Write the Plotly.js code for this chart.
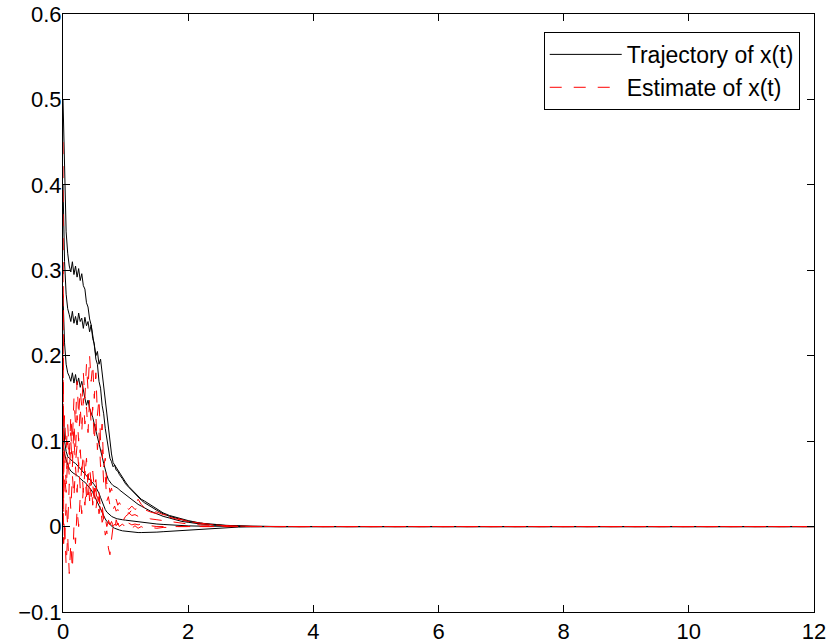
<!DOCTYPE html>
<html>
<head>
<meta charset="utf-8">
<script src="https://cdn.plot.ly/plotly-3.0.1.min.js"></script>
<style>html,body{margin:0;padding:0;background:#fff;}#chart{width:828px;height:643px;}</style>
</head>
<body>
<div id="chart"></div>
<script>
const time = [0,0.01,0.025,0.05,0.075,0.1,0.125,0.15,0.175,0.2,0.225,0.25,0.275,0.3,0.325,0.35,0.375,0.4,0.425,0.45,0.475,0.5,0.525,0.55,0.575,0.6,0.625,0.65,0.675,0.7,0.725,0.75,0.775,0.8,0.825,0.85,0.875,0.9,0.95,1.0,1.05,1.1,1.15,1.2,1.25,1.3,1.4,1.5,1.6,1.7,1.8,1.9,2.0,2.2,2.4,2.6,2.8,3.0,3.5,4.0,12];

const traj1 = [0.50,0.46,0.40,0.345,0.32,0.305,0.298,0.31,0.295,0.305,0.292,0.302,0.288,0.296,0.282,
 0.278,0.262,0.257,0.243,0.236,0.22,0.214,0.196,0.19,0.17,0.162,0.142,0.132,0.115,0.104,0.09,0.08,0.076,0.07,0.072,0.066,0.065,0.061,
 0.056,0.05,0.046,0.042,0.038,0.034,0.031,0.028,0.023,0.019,0.015,0.012,0.01,0.008,0.006,0.004,0.002,0.001,0.0005,0.0002,0,0,0];
const traj2 = [0.40,0.36,0.31,0.272,0.255,0.248,0.24,0.252,0.238,0.246,0.236,0.25,0.24,0.244,0.232,
 0.245,0.235,0.24,0.228,0.236,0.222,0.21,0.2,0.205,0.19,0.196,0.18,0.165,0.15,0.132,0.115,0.098,0.085,0.075,0.072,0.07,0.066,0.064,
 0.058,0.052,0.047,0.043,0.039,0.036,0.032,0.03,0.025,0.02,0.016,0.013,0.011,0.009,0.007,0.004,0.0025,0.0015,0.0008,0.0003,0,0,0];
const traj3 = [0.27,0.245,0.215,0.19,0.18,0.176,0.17,0.18,0.168,0.178,0.166,0.174,0.163,0.17,0.158,
 0.15,0.142,0.148,0.138,0.134,0.128,0.12,0.113,0.105,0.098,0.09,0.082,0.074,0.066,0.06,0.055,0.052,0.05,0.048,0.047,0.046,0.045,0.043,
 0.04,0.037,0.034,0.031,0.028,0.026,0.024,0.022,0.018,0.015,0.012,0.01,0.008,0.006,0.005,0.003,0.002,0.001,0.0005,0.0002,0,0,0];
const traj4 = [0.14,0.12,0.1,0.088,0.082,0.08,0.078,0.077,0.075,0.074,0.072,0.07,0.068,0.066,0.064,
 0.062,0.06,0.058,0.056,0.054,0.051,0.049,0.046,0.043,0.039,0.034,0.029,0.024,0.02,0.017,0.015,0.013,0.012,0.011,0.01,0.0095,0.009,0.0085,
 0.008,0.0075,0.007,0.0065,0.006,0.0055,0.005,0.0045,0.0035,0.003,0.0025,0.002,0.0015,0.001,0.0008,0.0005,0.0003,0.0002,0.0001,0,0,0,0];
const traj5 = [0.10,0.092,0.085,0.078,0.072,0.068,0.065,0.063,0.062,0.061,0.06,0.058,0.056,0.054,0.053,
 0.052,0.05,0.048,0.046,0.043,0.04,0.036,0.032,0.028,0.024,0.02,0.016,0.012,0.009,0.006,0.004,0.002,0.0005,-0.001,-0.002,-0.003,-0.0035,-0.004,
 -0.005,-0.0055,-0.006,-0.0065,-0.0068,-0.007,-0.007,-0.007,-0.0068,-0.0065,-0.006,-0.0055,-0.005,-0.0045,-0.004,-0.003,-0.002,-0.0012,-0.0006,-0.0003,0,0,0];

const est1 = [0.45,0.06,0.09,0.05,0.1,0.08,0.13,0.1,0.15,0.12,0.17,0.13,0.16,0.14,0.18,
 0.15,0.19,0.16,0.2,0.17,0.19,0.15,0.18,0.13,0.15,0.1,0.12,0.07,0.08,0.05,0.055,0.04,0.045,0.035,0.03,0.032,0.025,0.028,
 0.022,0.025,0.02,0.024,0.02,0.022,0.018,0.02,0.017,0.015,0.013,0.011,0.009,0.008,0.006,0.004,0.002,0.001,0.0005,0.0002,0,0,0];
const est2 = [0.3,0.03,0.06,0.04,0.08,0.06,0.1,0.07,0.12,0.09,0.13,0.1,0.14,0.11,0.15,
 0.12,0.14,0.11,0.15,0.12,0.14,0.1,0.13,0.09,0.11,0.07,0.09,0.05,0.06,0.03,0.035,0.025,0.028,0.02,0.024,0.018,0.02,0.016,
 0.018,0.015,0.016,0.013,0.014,0.012,0.012,0.011,0.009,0.008,0.007,0.006,0.005,0.004,0.003,0.002,0.001,0.0005,0.0002,0,0,0,0];
const est3 = [0.2,0.02,-0.02,0.03,0.0,0.05,0.02,0.06,0.035,0.07,0.04,0.075,0.045,0.07,0.04,
 0.065,0.035,0.06,0.03,0.055,0.025,0.045,0.02,0.035,0.015,0.025,0.005,0.01,-0.01,-0.005,-0.025,-0.033,-0.015,0.0,-0.005,0.008,0.002,0.01,
 0.006,0.012,0.015,0.02,0.024,0.032,0.026,0.022,0.018,0.017,0.014,0.013,0.01,0.008,0.006,0.004,0.002,0.001,0.0005,0.0002,0,0,0];
const est4 = [0.1,-0.02,0.0,-0.045,-0.01,-0.055,-0.02,-0.05,0.0,-0.02,0.02,0.0,0.035,0.015,0.045,
 0.025,0.05,0.03,0.055,0.035,0.05,0.03,0.045,0.025,0.035,0.015,0.02,0.005,0.01,0.0,0.006,-0.002,0.004,0.0,0.003,0.001,0.004,0.002,
 0.005,0.003,0.004,0.002,0.003,0.002,0.003,0.002,0.001,0,0,0,0,0,0,0,0,0,0,0,0,0,0];
const est5 = [0.14,0.1,0.13,0.09,0.12,0.085,0.11,0.08,0.1,0.075,0.095,0.07,0.09,0.065,0.085,
 0.06,0.08,0.055,0.07,0.05,0.065,0.045,0.055,0.035,0.04,0.02,0.025,0.01,0.012,0.004,0.008,0.002,0.006,0.001,0.005,0.0,0.004,0.0,
 0.003,-0.001,0.002,-0.002,0.001,-0.002,0.0,-0.002,-0.001,-0.002,-0.001,-0.001,0,0,0,0,0,0,0,0,0,0,0];

const trajectories = [traj1, traj2, traj3, traj4, traj5];
const estimates = [est1, est2, est3, est4, est5];
const legendNames = ["Trajectory of x(t)", "Estimate of x(t)"];
const xTicks = [0,2,4,6,8,10,12];
const yTicks = [-0.1,0,0.1,0.2,0.3,0.4,0.5,0.6];

const traces = [];
trajectories.forEach((y, i) => {
  traces.push({x: time, y: y, type: 'scatter', mode: 'lines',
    name: legendNames[0], showlegend: i === 0,
    line: {color: '#000000', width: 1}});
});
estimates.forEach((y, i) => {
  traces.push({x: time, y: y, type: 'scatter', mode: 'lines',
    name: legendNames[1], showlegend: i === 0,
    line: {color: '#ff0000', width: 1, dash: '12px,12px'}});
});

const fontFam = 'Liberation Sans, Arial, sans-serif';
const axisCommon = {
  showgrid: false, zeroline: false, showline: true, linecolor: '#000', linewidth: 1,
  mirror: 'ticks', ticks: 'inside', ticklen: 7, tickcolor: '#000', tickwidth: 1,
  tickfont: {family: fontFam, size: 22, color: '#000'}
};

const layout = {
  width: 828, height: 643,
  margin: {l: 63, r: 14, t: 14, b: 31},
  paper_bgcolor: '#fff', plot_bgcolor: '#fff',
  font: {family: fontFam, size: 22, color: '#000'},
  xaxis: Object.assign({}, axisCommon, {range: [0, 12], tickvals: xTicks, ticktext: xTicks.map(String)}),
  yaxis: Object.assign({}, axisCommon, {range: [-0.1, 0.6], tickvals: yTicks, ticklabelstandoff: -4,
    ticktext: yTicks.map(v => v < 0 ? '\u2212' + Math.abs(v) : String(v))}),
  legend: {x: 0.981, y: 0.970, xanchor: 'right', yanchor: 'top', bgcolor: '#fff',
    bordercolor: '#000', borderwidth: 1, itemwidth: 72, tracegroupgap: 0,
    font: {family: fontFam, size: 23, color: '#000'}},
  showlegend: true
};

Plotly.newPlot('chart', traces, layout, {displayModeBar: false, staticPlot: true});
</script>
</body>
</html>
